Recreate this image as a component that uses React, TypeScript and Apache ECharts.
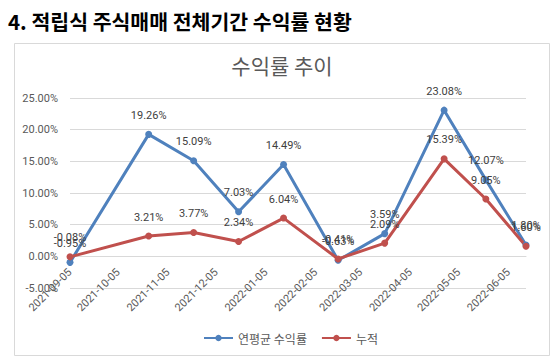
import React, { useEffect, useRef } from "react";
import * as echarts from "echarts";

const pageTitle = "4. 적립식 주식매매 전체기간 수익률 현황";
const chartTitle = "수익률 추이";
const axisStart = "2021-09-05";
const axisEnd = "2022-06-16";
const pointDates = [
  "2021-09-05",
  "2021-10-24",
  "2021-11-21",
  "2021-12-19",
  "2022-01-16",
  "2022-02-19",
  "2022-03-20",
  "2022-04-26",
  "2022-05-22",
  "2022-06-16",
];
const seriesNames = ["연평균 수익률", "누적"];
const annualReturn = [-0.95, 19.26, 15.09, 7.03, 14.49, -0.63, 3.59, 23.08, 12.07, 1.8];
const cumulative = [-0.08, 3.21, 3.77, 2.34, 6.04, -0.41, 2.09, 15.39, 9.05, 1.6];
const yMin = -5;
const yMax = 25;
const yStep = 5;

function dayList(start: string, end: string): string[] {
  const out: string[] = [];
  const d = new Date(start + "T00:00:00Z");
  const e = new Date(end + "T00:00:00Z");
  while (d.getTime() <= e.getTime()) {
    out.push(d.toISOString().slice(0, 10));
    d.setUTCDate(d.getUTCDate() + 1);
  }
  return out;
}

const NUM_FONT = "Roboto, 'Noto Sans CJK KR', sans-serif";
const KR_FONT = "'Noto Sans CJK KR', 'Noto Sans', sans-serif";
const TEXT_GRAY = "#595959";
const BLUE = "#4F81BD";
const RED = "#C0504D";

const GRID_TOP = 98;
const GRID_BOTTOM = 71;
const CHART_H = 359;

export default function App() {
  const ref = useRef<HTMLDivElement>(null);
  useEffect(() => {
    if (!ref.current) return;
    const chart = echarts.init(ref.current, null, { renderer: "svg" });
    const days = dayList(axisStart, axisEnd);
    const plotH = CHART_H - GRID_TOP - GRID_BOTTOM;
    const zeroOffset = -((0 - yMin) / (yMax - yMin)) * plotH;
    const mk = (vals: number[]) => pointDates.map((d, i) => [d, vals[i]]);
    const lineSeries = (name: string, vals: number[], color: string) => ({
      type: "line",
      name,
      data: mk(vals),
      symbol: "circle",
      symbolSize: 7,
      showSymbol: true,
      showAllSymbol: true,
      itemStyle: { color },
      lineStyle: { color, width: 3 },
      label: {
        show: true,
        position: "top",
        distance: 10,
        color: "#404040",
        fontFamily: NUM_FONT,
        fontSize: 11,
        formatter: (p: any) => Number(p.value[1]).toFixed(2) + "%",
      },
      labelLayout: { hideOverlap: false },
    });
    chart.setOption({
      animation: false,
      backgroundColor: "#ffffff",
      graphic: [
        {
          type: "rect",
          silent: true,
          z: -10,
          shape: { x: 14.5, y: 43.5, width: 535, height: 312 },
          style: { fill: "#ffffff", stroke: "#d9d9d9", lineWidth: 1 },
        },
        {
          type: "text",
          x: 8,
          y: 21,
          style: {
            text: pageTitle,
            fill: "#000000",
            font: `bold 20.5px ${KR_FONT}`,
            verticalAlign: "middle",
            textAlign: "left",
          },
        },
        {
          type: "text",
          x: 282,
          y: 65,
          style: {
            text: chartTitle,
            fill: TEXT_GRAY,
            font: `21px ${KR_FONT}`,
            verticalAlign: "middle",
            textAlign: "center",
          },
        },
      ],
      grid: { left: 70, right: 31, top: GRID_TOP, bottom: GRID_BOTTOM, containLabel: false },
      xAxis: {
        type: "category",
        data: days,
        boundaryGap: false,
        offset: zeroOffset,
        axisLine: { show: true, onZero: false, lineStyle: { color: "#d9d9d9", width: 1 } },
        axisTick: { show: false },
        splitLine: { show: false },
        axisLabel: {
          interval: (_i: number, v: string) => v.endsWith("-05"),
          rotate: 45,
          margin: 14,
          color: TEXT_GRAY,
          fontFamily: NUM_FONT,
          fontSize: 11,
        },
      },
      yAxis: {
        type: "value",
        min: yMin,
        max: yMax,
        interval: yStep,
        axisLine: { show: false },
        axisTick: { show: false },
        splitLine: { lineStyle: { color: "#d9d9d9", width: 1 } },
        axisLabel: {
          margin: 12,
          color: TEXT_GRAY,
          fontFamily: NUM_FONT,
          fontSize: 11,
          formatter: (v: number) => v.toFixed(2) + "%",
        },
      },
      legend: {
        data: seriesNames,
        left: 198,
        top: 327,
        itemWidth: 29,
        itemHeight: 8,
        itemGap: 14,
        textStyle: { color: TEXT_GRAY, fontFamily: KR_FONT, fontSize: 12 },
      },
      series: [
        lineSeries(seriesNames[0], annualReturn, BLUE),
        lineSeries(seriesNames[1], cumulative, RED),
      ],
    });
    return () => chart.dispose();
  }, []);
  return (
    <div
      ref={ref}
      style={{ position: "fixed", left: 0, top: 0, width: 557, height: 359, background: "#fff" }}
    />
  );
}
